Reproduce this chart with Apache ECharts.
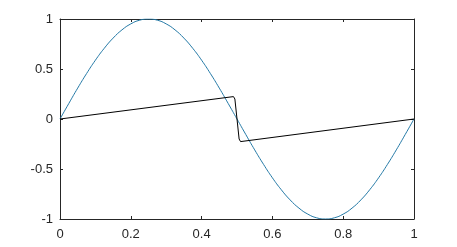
<!DOCTYPE html>
<html>
<head>
<meta charset="utf-8">
<script src="https://cdn.jsdelivr.net/npm/echarts@6/dist/echarts.min.js"></script>
<style>html,body{margin:0;padding:0;background:#fff}#c{width:457px;height:247px}</style>
</head>
<body>
<div id="c"></div>
<script>
// x positions of the blue (sine-shaped) curve samples
var sineX = [0,0.025,0.05,0.075,0.1,0.125,0.15,0.175,0.2,0.225,0.25,0.275,0.3,0.325,0.35,0.375,0.4,0.425,0.45,0.475,0.5,
             0.525,0.55,0.575,0.6,0.625,0.65,0.675,0.7,0.725,0.75,0.775,0.8,0.825,0.85,0.875,0.9,0.925,0.95,0.975,1];
// y values
var sineY = [0,0.156,0.309,0.454,0.588,0.707,0.809,0.891,0.951,0.988,1,0.988,0.951,0.891,0.809,0.707,0.588,0.454,0.309,0.156,0,
             -0.156,-0.309,-0.454,-0.588,-0.707,-0.809,-0.891,-0.951,-0.988,-1,-0.988,-0.951,-0.891,-0.809,-0.707,-0.588,-0.454,-0.309,-0.156,0];
// black sawtooth-like curve
var sawX = [0,0.490,0.494,0.497,0.500,0.503,0.506,0.510,1];
var sawY = [0,0.224,0.200,0.100,0,-0.100,-0.200,-0.226,0];
// ticks
var xTicks = [0,0.2,0.4,0.6,0.8,1];
var yTicks = [-1,-0.5,0,0.5,1];

function zip(a,b){return a.map(function(v,i){return [v,b[i]];});}

var axisCol = '#262626';
var font = {color:'#262626', fontSize:13, fontFamily:'Liberation Sans, Arial, sans-serif'};
function xa(pos, show){
  return {type:'value', position:pos, min:xTicks[0], max:xTicks[xTicks.length-1], interval:0.2,
    axisLine:{show:true, onZero:false, lineStyle:{color:axisCol,width:1}},
    axisTick:{show:true, inside:true, length:3, lineStyle:{color:axisCol}},
    axisLabel:Object.assign({show:show, margin:9}, font),
    splitLine:{show:false}};
}
function ya(pos, show){
  return {type:'value', position:pos, min:yTicks[0], max:yTicks[yTicks.length-1], interval:0.5,
    axisLine:{show:true, onZero:false, lineStyle:{color:axisCol,width:1}},
    axisTick:{show:true, inside:true, length:3, lineStyle:{color:axisCol}},
    axisLabel:Object.assign({show:show, margin:7}, font),
    splitLine:{show:false}};
}

var chart = echarts.init(document.getElementById('c'), null, {renderer:'canvas'});
chart.setOption({
  animation:false,
  backgroundColor:'#fff',
  grid:{left:60, right:43, top:19, bottom:28, containLabel:false},
  xAxis:[xa('bottom', true), xa('top', false)],
  yAxis:[ya('left', true), ya('right', false)],
  series:[
    {type:'line', xAxisIndex:0, yAxisIndex:0, data:zip(sineX,sineY), smooth:true, showSymbol:false,
     lineStyle:{color:'#2479a6', width:1}},
    {type:'line', xAxisIndex:0, yAxisIndex:0, data:zip(sawX,sawY), smooth:false, showSymbol:false,
     lineStyle:{color:'#000', width:1}}
  ]
});
</script>
</body>
</html>
